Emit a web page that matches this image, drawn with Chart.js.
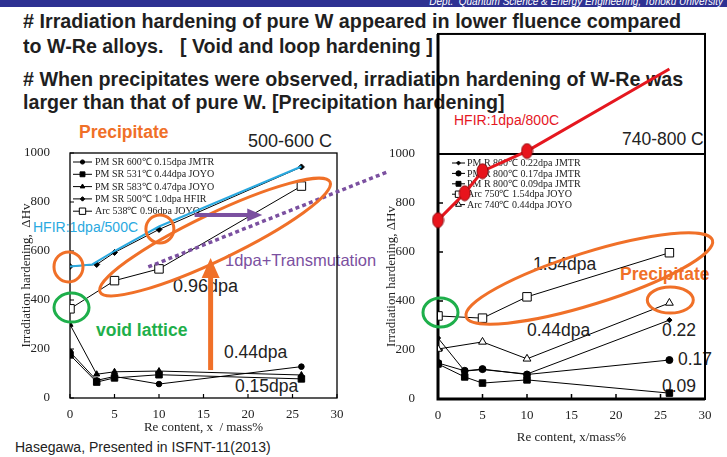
<!DOCTYPE html>
<html>
<head>
<meta charset="utf-8">
<script src="https://cdn.jsdelivr.net/npm/chart.js@4.4.0/dist/chart.umd.min.js"></script>
<style>
  html, body { margin: 0; padding: 0; }
  body { width: 727px; height: 457px; position: relative; overflow: hidden; background: #fff;
         font-family: 'Liberation Sans', Arial, sans-serif; }
  .band { position: absolute; left: 0; top: 0; width: 727px; height: 7px; background: #2e3192; overflow: hidden; }
  .band span { position: absolute; right: 4px; top: -3px; font-size: 10px; line-height: 10px; font-style: italic;
               color: #fff; white-space: nowrap; }
  .t { position: absolute; white-space: nowrap; line-height: 1; color: #222; }
  .head { font-weight: bold; font-size: 21px; color: #1f1f1f; transform-origin: 0 50%; }
  .b { font-weight: bold; }
  canvas { position: absolute; left: 0; top: 0; }
</style>
</head>
<body>
<div class="band"><span>Dept.&nbsp; Quantum Science &amp; Energy Engineering, Tohoku University</span></div>

<div class="t head" data-w="658" style="left:23px;top:9.5px"># Irradiation hardening of pure W appeared in lower fluence compared</div>
<div class="t head" data-w="410" style="left:23px;top:34.5px">to W-Re alloys.&nbsp;&nbsp; [ Void and loop hardening ]</div>
<div class="t head" data-w="660" style="left:23px;top:67.5px"># When precipitates were observed, irradiation hardening of W-Re was</div>
<div class="t head" data-w="482" style="left:23px;top:90.5px">larger than that of pure W. [Precipitation hardening]</div>

<!-- left panel notes -->
<div class="t b" style="left:79px;top:124px;font-size:17.5px;color:#f07028">Precipitate</div>
<div class="t" style="left:248px;top:132px;font-size:18px">500-600 C</div>
<div class="t" style="left:33px;top:220px;font-size:14px;color:#2aa9e0">HFIR:1dpa/500C</div>
<div class="t b" style="left:96px;top:322px;font-size:17.5px;color:#1eaf4b">void lattice</div>
<div class="t" style="left:225px;top:252px;font-size:16.5px;color:#7b50a0">1dpa+Transmutation</div>
<div class="t" style="left:173px;top:277px;font-size:18px">0.96dpa</div>
<div class="t" style="left:224px;top:344px;font-size:17.5px">0.44dpa</div>
<div class="t" style="left:235px;top:378px;font-size:17.5px">0.15dpa</div>
<div class="t" style="left:15px;top:440px;font-size:14px">Hasegawa, Presented in ISFNT-11(2013)</div>

<!-- right panel notes -->
<div class="t" style="left:454px;top:113px;font-size:14px;color:#e5171f">HFIR:1dpa/800C</div>
<div class="t" style="left:622px;top:131px;font-size:17.5px">740-800 C</div>
<div class="t" style="left:533px;top:256px;font-size:17.5px">1.54dpa</div>
<div class="t b" style="left:620px;top:266px;font-size:17.5px;color:#f07028">Precipitate</div>
<div class="t" style="left:527px;top:322px;font-size:17.5px">0.44dpa</div>
<div class="t" style="left:662px;top:322px;font-size:17.5px">0.22</div>
<div class="t" style="left:678px;top:351px;font-size:17.5px">0.17</div>
<div class="t" style="left:662px;top:378px;font-size:17.5px">0.09</div>

<canvas id="leftChart" width="727" height="457"></canvas>
<canvas id="rightChart" width="727" height="457"></canvas>

<script>
// ---- data: 500-600 C panel ----
const reLeft = [0, 3, 5, 10, 26];
const jmtr600_015 = [188, 72, 88, 57, 128];
const joyo531_044 = [176, 65, 82, 95, 78];
const joyo583_047 = [300, 97, 107, 110, 94];
const hfir500_10 = [537, 545, 594, 688, 943];
const reArcLeft = [0, 5, 10, 26];
const arc538_096 = [364, 479, 527, 865];
const reHfirBlue = [0, 2.5, 5, 10, 26];
const hfirBlue = [537, 545, 600, 700, 945];

// ---- data: 740-800 C panel ----
const reRight = [0, 3, 5, 10, 26];
const jmtr800_022 = [249, 114, 120, 102, 322];
const jmtr800_017 = [147, 115, 122, 100, 159];
const jmtr800_009 = [143, 90, 65, 78, 24];
const reArcRight = [0, 5, 10, 26];
const arc750_154 = [339, 330, 417, 597];
const arc740_044 = [204, 233, 164, 392];
const reHfirRed = [0, 3, 5, 10, 26];
const hfirRed = [730, 840, 930, 1012, 1347];

// ---- axes ----
const xTicks = [0, 5, 10, 15, 20, 25, 30];
const yTicks = [0, 200, 400, 600, 800, 1000];

// fit slide title lines to their width
document.querySelectorAll('[data-w]').forEach(el => {
  el.style.transform = 'scaleX(' + (+el.dataset.w / el.offsetWidth) + ')';
});

const pts = (xs, ys) => xs.map((x, i) => ({ x: x, y: ys[i] }));
const serif = '"Liberation Serif", "Times New Roman", serif';
const ORANGE = '#f07028', GREEN = '#1eaf4b', PURPLE = '#7b50a0';

function series(label, xs, ys, style, radius, fill) {
  return {
    label: label,
    data: pts(xs, ys),
    showLine: true,
    borderColor: '#000',
    borderWidth: 1,
    pointStyle: style,
    pointRadius: radius,
    pointBackgroundColor: fill || '#000',
    pointBorderColor: '#000',
    pointBorderWidth: 1
  };
}

// red ellipse marker for the HFIR 800C points
function redDot() {
  const c = document.createElement('canvas');
  c.width = 13; c.height = 17;
  const g = c.getContext('2d');
  g.beginPath();
  g.ellipse(6.5, 8.5, 5.5, 7.5, 0, 0, Math.PI * 2);
  g.fillStyle = '#e8141c';
  g.fill();
  g.lineWidth = 1;
  g.strokeStyle = '#8a0c10';
  g.stroke();
  return c;
}

function ellipse(ctx, cx, cy, rx, ry, rot, color, lw) {
  ctx.beginPath();
  ctx.ellipse(cx, cy, rx, ry, rot, 0, Math.PI * 2);
  ctx.strokeStyle = color;
  ctx.lineWidth = lw;
  ctx.stroke();
}

function arrow(ctx, x1, y1, x2, y2, shaft, headW, headL, color) {
  const ang = Math.atan2(y2 - y1, x2 - x1);
  const len = Math.hypot(x2 - x1, y2 - y1);
  ctx.save();
  ctx.translate(x1, y1);
  ctx.rotate(ang);
  ctx.fillStyle = color;
  ctx.fillRect(0, -shaft / 2, len - headL + 1, shaft);
  ctx.beginPath();
  ctx.moveTo(len, 0);
  ctx.lineTo(len - headL, -headW / 2);
  ctx.lineTo(len - headL, headW / 2);
  ctx.closePath();
  ctx.fill();
  ctx.restore();
}

function inwardTicks(ctx, a, x, y, len, lw) {
  ctx.lineWidth = lw;
  ctx.strokeStyle = '#000';
  ctx.beginPath();
  xTicks.forEach(v => {
    const px = x.getPixelForValue(v);
    ctx.moveTo(px, a.bottom);
    ctx.lineTo(px, a.bottom - len);
  });
  yTicks.forEach(v => {
    const py = y.getPixelForValue(v);
    ctx.moveTo(a.left, py);
    ctx.lineTo(a.left + len, py);
  });
  ctx.stroke();
}

function drawLegend(chart, x0, y0, dy, lineLen, textGap) {
  const ctx = chart.ctx;
  ctx.save();
  ctx.font = '10px ' + serif;
  ctx.textBaseline = 'middle';
  let row = 0;
  chart.data.datasets.forEach(ds => {
    if (!ds.inLegend) return;
    const y = y0 + row * dy;
    ctx.strokeStyle = '#000';
    ctx.lineWidth = 1;
    ctx.beginPath();
    ctx.moveTo(x0, y);
    ctx.lineTo(x0 + lineLen, y);
    ctx.stroke();
    ctx.fillStyle = ds.pointBackgroundColor;
    Chart.helpers.drawPoint(ctx, {
      pointStyle: ds.pointStyle, radius: ds.pointRadius * 0.75, rotation: 0, borderWidth: 1
    }, x0 + lineLen / 2, y);
    ctx.fillStyle = '#222';
    ctx.fillText(ds.label, x0 + lineLen + textGap, y + 0.5);
    row++;
  });
  ctx.restore();
}

function axes(xTitle, yTitle, yWidth, xHeight, labelPad, xTitlePad) {
  const tickFont = { family: serif, size: 13 };
  return {
    x: {
      type: 'linear', min: 0, max: 30,
      afterBuildTicks: s => { s.ticks = xTicks.map(v => ({ value: v })); },
      afterFit: s => { s.height = xHeight; },
      grid: { display: false }, border: { display: false },
      ticks: { padding: 1, font: tickFont, color: '#222', maxRotation: 0, callback: v => String(v) },
      title: { display: true, text: xTitle, font: tickFont, color: '#222', padding: { top: 0, bottom: xTitlePad } }
    },
    y: {
      type: 'linear', min: 0, max: 1000,
      afterBuildTicks: s => { s.ticks = yTicks.map(v => ({ value: v })); },
      afterFit: s => { s.width = yWidth; },
      grid: { display: false }, border: { display: false },
      ticks: { padding: labelPad, font: tickFont, color: '#222', callback: v => String(v) },
      title: { display: true, text: yTitle, font: tickFont, color: '#222', padding: { top: 4, bottom: 0 } }
    }
  };
}

// ---- left panel: 500-600 C ----
const leftDeco = {
  id: 'leftDeco',
  beforeDatasetsDraw(chart) {
    const { ctx, chartArea: a, scales: { x, y } } = chart;
    ctx.save();
    ctx.strokeStyle = '#000';
    ctx.lineWidth = 1.3;
    ctx.strokeRect(a.left, a.top, a.right - a.left, a.bottom - a.top);
    inwardTicks(ctx, a, x, y, 4, 1.2);
    ctx.restore();
    drawLegend(chart, a.left + 3, a.top + 9, 12.3, 19, 3);
  },
  afterDatasetsDraw(chart) {
    const { ctx, scales: { x, y } } = chart;
    ctx.save();
    // dotted transmutation trend, runs over into the right panel
    ctx.setLineDash([4, 3.2]);
    ctx.strokeStyle = PURPLE;
    ctx.lineWidth = 3.5;
    ctx.beginPath();
    ctx.moveTo(x.getPixelForValue(8.8), y.getPixelForValue(535));
    ctx.lineTo(x.getPixelForValue(35.6), y.getPixelForValue(922));
    ctx.stroke();
    ctx.setLineDash([]);
    ellipse(ctx, x.getPixelForValue(-0.17), y.getPixelForValue(535), 14.5, 15, 0, ORANGE, 3);
    ellipse(ctx, x.getPixelForValue(10.1), y.getPixelForValue(690), 14, 14, 0, ORANGE, 3);
    ellipse(ctx, x.getPixelForValue(16.3), y.getPixelForValue(657), 127.5, 23, -25.6 * Math.PI / 180, ORANGE, 3);
    ellipse(ctx, x.getPixelForValue(0.17), y.getPixelForValue(369), 17.5, 14.5, 0, GREEN, 3);
    arrow(ctx, x.getPixelForValue(14.0), y.getPixelForValue(747), x.getPixelForValue(21.6), y.getPixelForValue(747), 4, 13, 15, PURPLE);
    arrow(ctx, x.getPixelForValue(15.8), y.getPixelForValue(114), x.getPixelForValue(15.8), y.getPixelForValue(571), 5, 18, 20, ORANGE);
    ctx.restore();
  }
};

const leftSets = [
  Object.assign(series('', reHfirBlue, hfirBlue, 'circle', 0), { borderColor: '#2aa9e0', borderWidth: 2 }),
  series('PM SR 600\u2103 0.15dpa JMTR', reLeft, jmtr600_015, 'circle', 2.8),
  series('PM SR 531\u2103 0.44dpa JOYO', reLeft, joyo531_044, 'rect', 4.6),
  series('PM SR 583\u2103 0.47dpa JOYO', reLeft, joyo583_047, 'triangle', 3.5),
  series('PM SR 500\u2103 1.0dpa HFIR', reLeft, hfir500_10, 'rectRot', 3),
  series('Arc 538\u2103 0.96dpa JOYO', reArcLeft, arc538_096, 'rect', 6, '#fff')
];
leftSets.forEach(ds => { ds.inLegend = ds.label !== ''; });

new Chart(document.getElementById('leftChart'), {
  type: 'scatter',
  data: { datasets: leftSets },
  options: {
    responsive: false,
    animation: false,
    events: [],
    layout: { padding: { left: 15, top: 153, right: 390, bottom: 19 } },
    plugins: { legend: { display: false }, tooltip: { enabled: false } },
    scales: axes('Re content, x  / mass%', 'Irradiation hardening,  \u0394Hv', 55, 40, 12, 3)
  },
  plugins: [leftDeco]
});

// ---- right panel: 740-800 C ----
const rightDeco = {
  id: 'rightDeco',
  beforeDatasetsDraw(chart) {
    const { ctx, chartArea: a, scales: { x, y } } = chart;
    const top = y.getPixelForValue(1490);
    ctx.save();
    ctx.strokeStyle = '#000';
    ctx.lineWidth = 2;
    ctx.strokeRect(a.left, top, a.right - a.left, a.bottom - top);
    ctx.lineWidth = 1.8;
    ctx.beginPath();
    ctx.moveTo(a.left, a.top);
    ctx.lineTo(a.right, a.top);
    ctx.stroke();
    ctx.lineWidth = 3;
    ctx.beginPath();
    ctx.moveTo(a.left, top);
    ctx.lineTo(a.left, a.bottom);
    ctx.lineTo(a.right, a.bottom);
    ctx.stroke();
    inwardTicks(ctx, a, x, y, 5, 1.5);
    ctx.restore();
    drawLegend(chart, a.left + 14, a.top + 9, 10.4, 13, 2);
  },
  afterDatasetsDraw(chart) {
    const { ctx, scales: { x, y } } = chart;
    ctx.save();
    ellipse(ctx, x.getPixelForValue(17.0), y.getPixelForValue(492), 129, 26, -17.3 * Math.PI / 180, ORANGE, 3);
    ellipse(ctx, x.getPixelForValue(26.1), y.getPixelForValue(404), 23, 13, 0, ORANGE, 3);
    ellipse(ctx, x.getPixelForValue(0.28), y.getPixelForValue(353), 17.5, 14.5, 0, GREEN, 3);
    ctx.restore();
  }
};

const rightSets = [
  Object.assign(series('', reHfirRed, hfirRed, redDot(), 8), { borderColor: '#e5171f', borderWidth: 3, clip: false }),
  series('PM R 800\u2103 0.22dpa JMTR', reRight, jmtr800_022, 'rectRot', 2.6),
  series('PM R 800\u2103 0.17dpa JMTR', reRight, jmtr800_017, 'circle', 3.5),
  series('PM R 800\u2103 0.09dpa JMTR', reRight, jmtr800_009, 'rect', 4.6),
  series('Arc 750\u2103 1.54dpa JOYO', reArcRight, arc750_154, 'rect', 6, '#fff'),
  series('Arc 740\u2103 0.44dpa JOYO', reArcRight, arc740_044, 'triangle', 4.5, '#fff')
];
rightSets.forEach(ds => { ds.inLegend = ds.label !== ''; });

new Chart(document.getElementById('rightChart'), {
  type: 'scatter',
  data: { datasets: rightSets },
  options: {
    responsive: false,
    animation: false,
    events: [],
    layout: { padding: { left: 380, top: 154, right: 22, bottom: 8 } },
    plugins: { legend: { display: false }, tooltip: { enabled: false } },
    scales: axes('Re content, x/mass%', 'Irradiation hardening, \u0394Hv', 58, 50, 15, 4)
  },
  plugins: [rightDeco]
});
</script>
</body>
</html>
